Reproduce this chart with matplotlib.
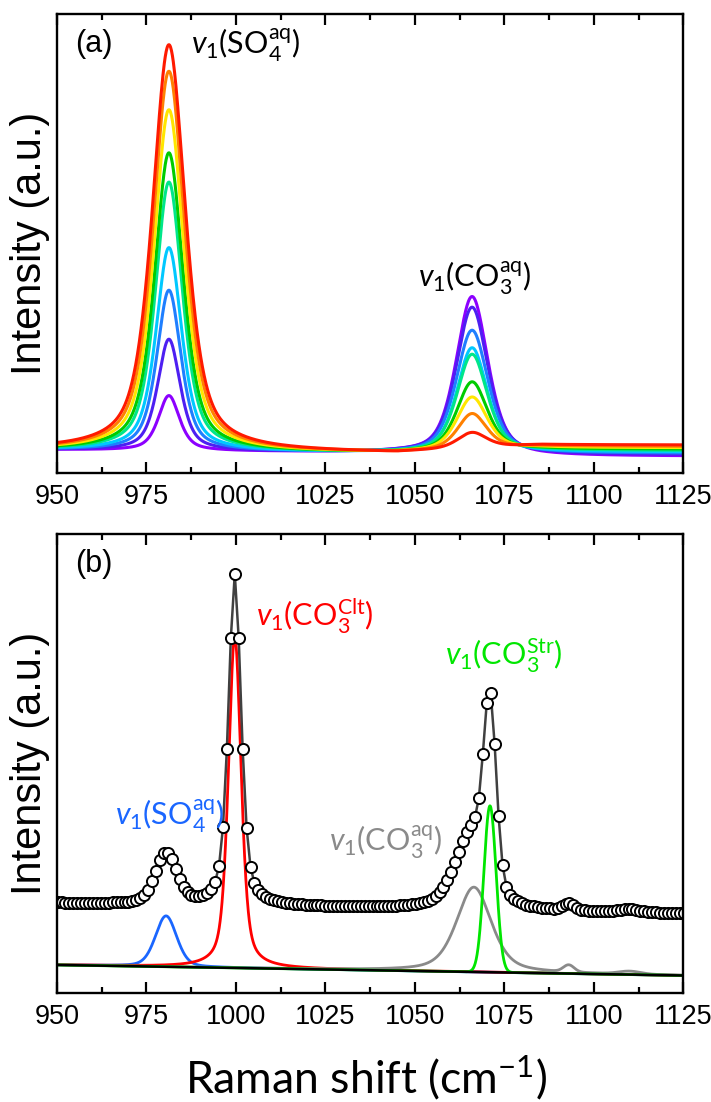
import numpy as np
import matplotlib.pyplot as plt
from matplotlib.ticker import MultipleLocator

plt.rcParams['mathtext.fontset'] = 'custom'
plt.rcParams['mathtext.rm'] = 'Lato'
plt.rcParams['mathtext.it'] = 'Lato:italic'

# ---- panel (a): 9 spectra, violet -> red, peak parameters
colors_a = ['#8c00ff', '#4d1ff2', '#1f7fff', '#00c8ff', '#00e68a',
            '#00cc00', '#ffe600', '#ff8000', '#ff1a00']
so4_center = 981.3
so4_height = [0.120, 0.243, 0.350, 0.443, 0.586, 0.650, 0.744, 0.828, 0.886]
so4_fwhm = [7.0, 7.5, 8.0, 8.5, 9.0, 9.5, 10.0, 10.5, 11.0]
co3_center = 1066.0
co3_height = [0.345, 0.320, 0.268, 0.228, 0.212, 0.150, 0.115, 0.077, 0.034]
co3_fwhm = [10.5, 10.5, 10.5, 10.0, 10.0, 10.0, 10.0, 9.5, 9.5]
base_x = [950, 1045, 1085, 1125]
base_start = 0.050
base_mid = 0.043
base_end = [0.036, 0.039, 0.042, 0.045, 0.048, 0.051, 0.054, 0.057, 0.060]

# ---- panel (b): fitted components
baseline_b = [0.061, 0.038]          # at 950 and 1125
offset_data = 0.135                  # measured spectrum drawn above the fit
comp_names = ['so4', 'clt', 'aq', 'str']
comp_center = [980.5, 999.7, 1066.5, 1071.0]
comp_height = [0.111, 0.723, 0.185, 0.363]
comp_fwhm = [7.0, 4.2, 11.5, 4.0]
comp_eta = [0.3, 0.5, 0.5, 0.0]
comp_colors = ['#1a66ff', '#ff0000', '#8a8a8a', '#00e600']
small_center = [1093.0, 1110.0]      # weak bands in the grey trace
small_height = [0.015, 0.006]
small_fwhm = [3.5, 7.0]
data_step = 1.1
data_start = 950.2


def pvoigt(x, c, h, w, eta):
    g = np.exp(-4 * np.log(2) * ((x - c) / w) ** 2)
    l = 1 / (1 + 4 * ((x - c) / w) ** 2)
    return h * (eta * l + (1 - eta) * g)


tick_font = ['Liberation Sans Narrow', 'Liberation Sans']
label_kw = dict(fontsize=22, family='Lato')

fig = plt.figure(figsize=(7.11, 11.02), dpi=100)
ax1 = fig.add_axes([0.080, 0.571, 0.881, 0.416])
ax2 = fig.add_axes([0.080, 0.099, 0.881, 0.416])

x = np.linspace(950, 1125, 1400)
for i in range(len(colors_a)):
    base = np.interp(x, base_x, [base_start, base_mid, base_end[i], base_end[i]])
    y = (base + pvoigt(x, so4_center, so4_height[i], so4_fwhm[i], 0.6)
         + pvoigt(x, co3_center, co3_height[i], co3_fwhm[i], 0.5))
    ax1.plot(x, y, color=colors_a[i], lw=2.2)

ax1.text(955.0, 0.935, '(a)', fontsize=22, family='Liberation Sans', va='center')
ax1.text(987.5, 0.932, r'$v_{\mathrm{1}}$(SO$_{4}^{\mathrm{aq}}$)', va='center', **label_kw)
ax1.text(1051, 0.425, r'$v_{\mathrm{1}}$(CO$_{3}^{\mathrm{aq}}$)', va='center', **label_kw)

# panel (b)
xb = np.linspace(950, 1125, 2000)
lin_b = np.interp(xb, [950, 1125], baseline_b)
xd = np.arange(data_start, 1125.2, data_step)
yd = np.interp(xd, [950, 1125], baseline_b) + offset_data
for c, h, w in zip(small_center, small_height, small_fwhm):
    yd = yd + pvoigt(xd, c, h, w, 0.0)
for i in range(len(comp_names)):
    yd = yd + pvoigt(xd, comp_center[i], comp_height[i], comp_fwhm[i], comp_eta[i])

grey_extra = sum(pvoigt(xb, c, h, w, 0.0) for c, h, w in zip(small_center, small_height, small_fwhm))
for i in range(len(comp_names)):
    yc = lin_b + pvoigt(xb, comp_center[i], comp_height[i], comp_fwhm[i], comp_eta[i])
    if comp_names[i] == 'aq':
        yc = yc + grey_extra
    ax2.plot(xb, yc, color=comp_colors[i], lw=2.0)
ax2.plot(xb, lin_b, color='black', lw=1.8)
ax2.plot(xd, yd, color='#404040', lw=1.8, marker='o', ms=8,
         mfc='white', mec='black', mew=1.4)

ax2.text(955.0, 0.935, '(b)', fontsize=22, family='Liberation Sans', va='center')
ax2.text(1005.6, 0.822, r'$v_{\mathrm{1}}$(CO$_{3}^{\mathrm{Clt}}$)', va='center',
         color=comp_colors[1], **label_kw)
ax2.text(1058.5, 0.735, r'$v_{\mathrm{1}}$(CO$_{3}^{\mathrm{Str}}$)', va='center',
         color=comp_colors[3], **label_kw)
ax2.text(966.2, 0.385, r'$v_{\mathrm{1}}$(SO$_{4}^{\mathrm{aq}}$)', va='center',
         color=comp_colors[0], **label_kw)
ax2.text(1026.0, 0.33, r'$v_{\mathrm{1}}$(CO$_{3}^{\mathrm{aq}}$)', va='center',
         color=comp_colors[2], **label_kw)

for ax in (ax1, ax2):
    ax.set_xlim(950, 1125)
    ax.set_ylim(0, 1)
    ax.set_yticks([])
    ax.set_xticks(range(950, 1126, 25))
    ax.xaxis.set_minor_locator(MultipleLocator(12.5))
    ax.tick_params(axis='x', which='major', direction='in', top=True,
                   length=8, width=1.6, pad=8)
    ax.tick_params(axis='x', which='minor', direction='in', top=True,
                   length=4.5, width=1.6)
    for lab in ax.get_xticklabels():
        lab.set_family(tick_font)
        lab.set_fontsize(19.5)
    for s in ax.spines.values():
        s.set_linewidth(1.7)
    ax.set_ylabel('Intensity (a.u.)', fontsize=30, family='Liberation Sans', labelpad=5)

fig.text(0.515, 0.022, r'Raman shift (cm$^{\mathrm{-1}}$)', fontsize=32,
         family='Lato', ha='center', va='center')

fig.savefig('out.png', dpi=100)
